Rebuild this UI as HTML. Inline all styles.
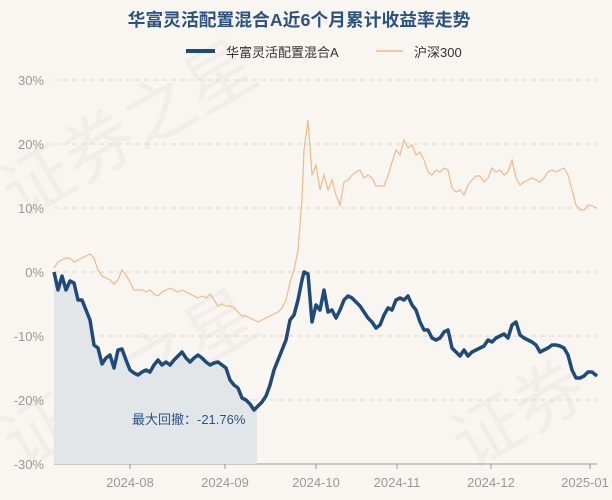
<!DOCTYPE html><html><head><meta charset="utf-8"><style>
body{margin:0;background:#f9f6f2;}
svg{display:block;font-family:"Liberation Sans","Noto Sans CJK SC",sans-serif;}
</style></head><body>
<svg width="612" height="500" viewBox="0 0 612 500">
<rect width="612" height="500" fill="#f9f6f2"/>
<g fill="#ece8e3" font-size="70" opacity="0.6">
<text x="20" y="220" transform="rotate(-30 20 220)">证券之星</text>
<text x="20" y="470" transform="rotate(-30 20 470)">证券之星</text>
<text x="470" y="470" transform="rotate(-30 470 470)">证券</text>
</g>
<text x="299" y="26" text-anchor="middle" font-size="17.8" font-weight="bold" fill="#2b5382">华富灵活配置混合A近6个月累计收益率走势</text>
<line x1="186" y1="51" x2="215" y2="51" stroke="#1f4b7a" stroke-width="4"/>
<text x="226" y="57" font-size="13" fill="#333">华富灵活配置混合A</text>
<line x1="376" y1="51" x2="403" y2="51" stroke="#f3b985" stroke-width="1.5"/>
<text x="414" y="57" font-size="13" fill="#333">沪深300</text>
<g stroke="#d9d6d2" stroke-dasharray="5,4" stroke-width="1">
<line x1="54" y1="80" x2="597" y2="80"/><line x1="54" y1="144" x2="597" y2="144"/><line x1="54" y1="208" x2="597" y2="208"/><line x1="54" y1="272" x2="597" y2="272"/><line x1="54" y1="336" x2="597" y2="336"/><line x1="54" y1="400" x2="597" y2="400"/>
</g>
<g font-size="13" fill="#999" text-anchor="end">
<text x="44" y="85">30%</text><text x="44" y="149">20%</text><text x="44" y="213">10%</text><text x="44" y="277">0%</text><text x="44" y="341">-10%</text><text x="44" y="405">-20%</text><text x="44" y="469">-30%</text>
</g>
<line x1="54" y1="464" x2="597" y2="464" stroke="#999" stroke-width="1"/>
<g stroke="#999"><line x1="130" y1="464" x2="130" y2="469"/><line x1="225" y1="464" x2="225" y2="469"/><line x1="316" y1="464" x2="316" y2="469"/><line x1="397" y1="464" x2="397" y2="469"/><line x1="491" y1="464" x2="491" y2="469"/><line x1="590" y1="464" x2="590" y2="469"/></g>
<g font-size="13" fill="#999" text-anchor="middle">
<text x="130" y="487">2024-08</text><text x="225" y="487">2024-09</text><text x="316" y="487">2024-10</text><text x="397" y="487">2024-11</text><text x="491" y="487">2024-12</text><text x="585" y="487">2025-01</text>
</g>
<path fill="#dfe4e8" opacity="0.9" d="M54,272 58,290 62,276 66,290 70,281 74,283 78,300 82,300 86,310 90,320 94,345 98,348 102,364 106,358 110,355 114,368 118,350 122,349 126,360 130,370 134,373 138,375 142,372 146,370 150,372 154,365 158,360 162,365 166,362 170,365 174,360 178,356 182,352 186,358 190,362 194,358 198,355 202,358 206,362 210,365 214,363 218,362 222,365 226,368 230,380 234,385 238,388 242,398 246,400 250,404 254,410 257,407 L257,464 L54,464Z"/>
<polyline fill="none" stroke="#f3b985" stroke-width="1.2" points="54,268 58,262 62,260 66,258 70,258 74,262 78,260 82,258 86,256 90,254 94,258 98,270 102,276 106,278 110,280 114,284 118,280 122,270 126,275 130,282 134,290 138,290 142,290 146,292 150,290 154,294 158,296 162,292 166,290 170,288 174,290 178,292 182,290 186,292 190,294 194,296 198,298 202,296 206,298 210,294 214,300 218,306 222,304 226,306 230,306 234,308 238,312 242,316 246,316 250,318 254,320 258,322 262,320 266,318 270,316 274,314 278,312 282,308 286,300 290,282 294,270 298,250 302,200 304,150 308,120 312,175 316,165 320,190 324,175 328,190 332,180 336,195 340,205 344,182 348,180 352,175 356,172 360,170 364,178 368,175 372,178 376,186 380,186 384,186 388,176 392,162 396,150 400,155 404,140 408,148 412,145 416,155 420,152 424,160 428,172 432,175 436,170 440,172 444,168 448,170 452,188 456,192 460,190 464,195 468,185 472,180 476,176 480,176 484,182 488,178 492,168 496,172 500,170 504,175 508,172 512,160 516,178 520,185 524,182 528,180 532,178 536,180 540,182 544,178 548,172 552,170 556,172 560,170 564,168 568,175 572,190 576,205 580,210 584,210 588,205 592,206 597,208"/>
<polyline fill="none" stroke="#1f4b7a" stroke-width="3.5" stroke-linejoin="round" points="54,272 58,290 62,276 66,290 70,281 74,283 78,300 82,300 86,310 90,320 94,345 98,348 102,364 106,358 110,355 114,368 118,350 122,349 126,360 130,370 134,373 138,375 142,372 146,370 150,372 154,365 158,360 162,365 166,362 170,365 174,360 178,356 182,352 186,358 190,362 194,358 198,355 202,358 206,362 210,365 214,363 218,362 222,365 226,368 230,380 234,385 238,388 242,398 246,400 250,404 254,410 258,406 262,402 266,396 270,385 274,370 278,360 282,350 286,340 290,320 294,315 298,300 302,280 304,272 308,274 312,322 316,305 320,310 324,290 328,312 332,310 336,318 340,310 344,300 348,296 352,298 356,302 360,306 364,312 368,318 372,322 376,328 380,325 384,315 388,308 392,310 396,300 400,298 404,300 408,296 412,305 416,310 420,322 424,330 428,330 432,338 436,340 440,338 444,332 448,330 452,348 456,352 460,356 464,350 468,356 472,352 476,350 480,348 484,346 488,340 492,342 496,338 500,336 504,334 508,338 512,325 516,322 520,335 524,338 528,340 532,342 536,345 540,352 544,350 548,348 552,345 556,345 560,346 564,348 568,355 572,370 576,378 580,378 584,376 588,372 592,372 597,376"/>
<text x="132" y="424" font-size="13" fill="#2b5382">最大回撤：-21.76%</text>
</svg>
</body></html>
